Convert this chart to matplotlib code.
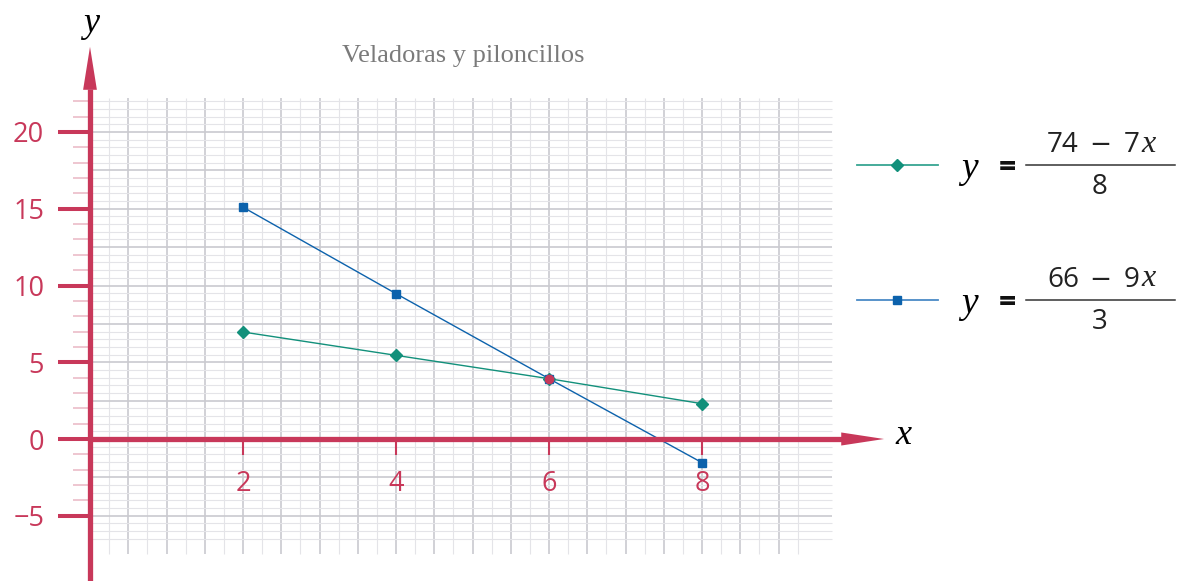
import numpy as np
import matplotlib.pyplot as plt
from matplotlib.ticker import FixedLocator

# valores
x_vals = [2, 4, 6, 8]
velas = [6.97, 5.45, 3.93, 2.3]           # y = (74 - 7x) / 8
piloncillos = [15.1, 9.47, 3.93, -1.54]   # y = (66 - 9x) / 3
cruce_x = [6]
cruce_y = [3.93]
y_ticks = [-5, 0, 5, 10, 15, 20]
x_ticks = [2, 4, 6, 8]
y_minor = [v for v in range(-4, 23) if v % 5 != 0]

RED = '#C8385A'
PINK = '#EBBCC8'
GREEN = '#12907B'
BLUE = '#0C62AC'
GRID_MIN = '#E4E4E8'
GRID_MAJ = '#CACACF'
INK = '#222222'

W, H = 1179, 581
fig = plt.figure(figsize=(W / 100, H / 100), dpi=100)
ax = fig.add_axes([0, 0, 1, 1])
ax.patch.set_visible(False)

# 76.5 px por unidad en x, 15.35 px por unidad en y
ax.set_xlim(-90 / 76.5, (W - 90) / 76.5)
ax.set_ylim(-(H - 439) / 15.35, 439 / 15.35)

# cuadricula
for gx in np.arange(0.25, 9.26, 0.25):
    major = abs(gx * 2 - round(gx * 2)) < 1e-9
    ax.vlines(gx, -7.5, 22.2, color=GRID_MAJ if major else GRID_MIN,
              lw=1.2 if major else 0.8, zorder=1)
for gy in np.arange(-6.5, 22.01, 0.5):
    major = abs(gy / 2.5 - round(gy / 2.5)) < 1e-9
    ax.hlines(gy, 0, 9.7, color=GRID_MAJ if major else GRID_MIN,
              lw=1.2 if major else 0.8, zorder=1)

# ejes
for s in ['top', 'right']:
    ax.spines[s].set_visible(False)
for s in ['left', 'bottom']:
    ax.spines[s].set_position(('data', 0))
    ax.spines[s].set_color(RED)
    ax.spines[s].set_linewidth(3.8)
    ax.spines[s].set_capstyle('butt')
ax.spines['left'].set_bounds(-9.3, 22.8)
ax.spines['bottom'].set_bounds(0, 9.85)

ax.arrow(0, 22.7, 0, 25.55 - 22.7, width=0, head_width=0.18, head_length=2.8,
         length_includes_head=True, color=RED, lw=0, zorder=3)
ax.arrow(9.8, 0, 10.38 - 9.8, 0, width=0, head_width=0.85, head_length=0.56,
         length_includes_head=True, color=RED, lw=0, zorder=3)

ax.set_yticks(y_ticks)
ax.set_yticklabels([str(v).replace('-', '\u2212') for v in y_ticks])
ax.yaxis.set_minor_locator(FixedLocator(y_minor))
ax.set_xticks(x_ticks)
ax.set_xticklabels([str(v) for v in x_ticks])
ax.tick_params(axis='y', which='major', direction='out', length=23, width=2.9,
               color=RED, labelcolor=RED, labelsize=19.5, pad=10)
ax.tick_params(axis='y', which='minor', direction='out', length=12, width=1.2,
               color=PINK)
ax.tick_params(axis='x', which='major', direction='out', length=11.5, width=1.5,
               color=RED, labelcolor=RED, labelsize=19.5, pad=11)
for lab in ax.get_xticklabels() + ax.get_yticklabels():
    lab.set_fontfamily('Open Sans')

# series
ax.plot(x_vals, velas, color=GREEN, lw=1.0, marker='D', ms=6.5,
        mec=GREEN, mfc=GREEN, zorder=2)
ax.plot(x_vals, piloncillos, color=BLUE, lw=1.0, marker='s', ms=6,
        mec=BLUE, mfc=BLUE, zorder=2)
ax.plot(cruce_x, cruce_y, 'o', color=RED, ms=6, zorder=4)

# textos
def fx(px):
    return px / W

def fy(py):
    return 1 - py / H

fig.text(fx(463), fy(56), 'Veladoras y piloncillos', family='Liberation Serif',
         fontsize=19, color='#7A7A7A', ha='center', va='center')
fig.text(fx(91), fy(24), 'y', family='Liberation Serif', style='italic',
         fontsize=26, ha='center', va='center')
fig.text(fx(903), fy(436), 'x', family='Liberation Serif', style='italic',
         fontsize=26, ha='center', va='center')

# leyenda
entradas = [
    (165, GREEN, '#37A592', 'D', 6.5, '74', '7', '8'),
    (300, BLUE, '#4A8AC6', 's', 6, '66', '9', '3'),
]
for py, mc, lc, mk, ms, a, b, den in entradas:
    ax.plot([fx(857), fx(938)], [fy(py), fy(py)], color=lc, lw=1.3,
            transform=ax.transAxes, clip_on=False)
    ax.plot([fx(897)], [fy(py)], marker=mk, ms=ms, color=mc,
            transform=ax.transAxes, clip_on=False)
    fig.text(fx(969), fy(py + 4), 'y', family='Liberation Serif', style='italic',
             fontsize=27, ha='center', va='center')
    fig.text(fx(1007), fy(py + 3), '=', family='Open Sans', fontweight='bold',
             fontsize=22, ha='center', va='center', color='#111111')
    ax.plot([fx(1026), fx(1175)], [fy(py), fy(py)], color='#333333', lw=1.1,
            transform=ax.transAxes, clip_on=False)
    # numerador: a - b x
    fig.text(fx(1063), fy(py - 20), a, family='Open Sans', fontsize=20,
             ha='center', va='center', color=INK)
    fig.text(fx(1100), fy(py - 20), '\u2212', family='DejaVu Sans', fontsize=19,
             ha='center', va='center', color=INK)
    fig.text(fx(1132), fy(py - 20), b, family='Open Sans', fontsize=20,
             ha='center', va='center', color=INK)
    fig.text(fx(1149), fy(py - 21), 'x', family='Liberation Serif',
             style='italic', fontsize=23, ha='center', va='center', color=INK)
    fig.text(fx(1100), fy(py + 22), den, family='Open Sans', fontsize=20,
             ha='center', va='center', color=INK)

fig.savefig('out.png', dpi=100)
